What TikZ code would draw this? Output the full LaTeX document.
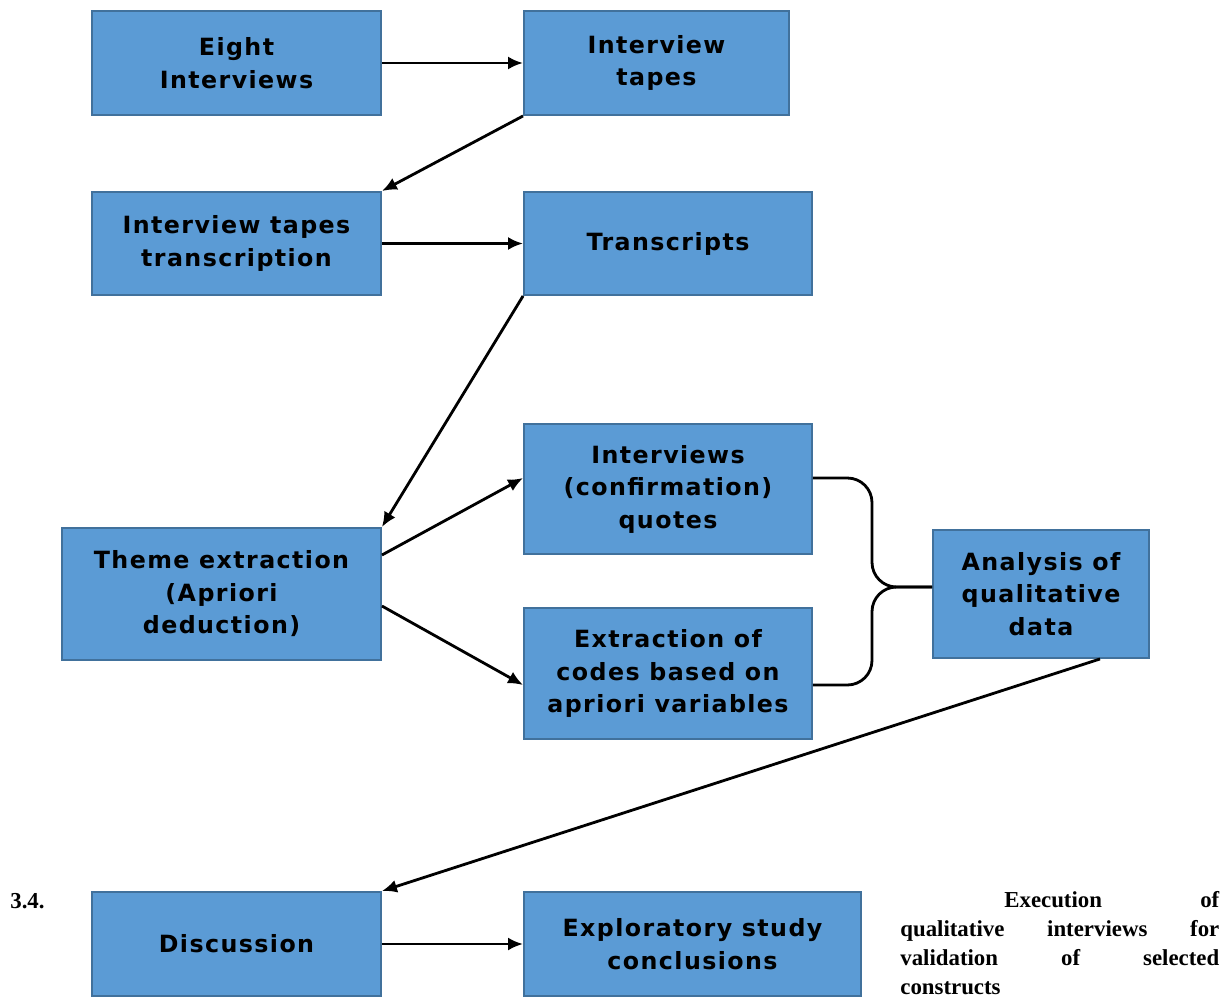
\documentclass[tikz,border=0pt]{standalone}
\usepackage{fontspec}
\usepackage{tikz}
\usetikzlibrary{shapes,arrows,arrows.meta,positioning,calc}
\usepackage{xcolor}
\newfontfamily\boxfont[LetterSpace=6.0]{DejaVu Sans}
\newfontfamily\headfont{Liberation Serif}
\definecolor{boxblue}{RGB}{91,155,213}
\definecolor{boxedge}{RGB}{65,113,156}
\tikzset{
    block/.style={rectangle, draw=boxedge, fill=boxblue, align=center, inner sep=2pt, font=\boxfont\bfseries\fontsize{13.5}{18.5}\selectfont, line width=1.1pt},
    line/.style={draw, -{Latex[length=0.3cm,width=0.26cm]}, line width=1.6pt},
    brace/.style={draw, line width=1.6pt, rounded corners=14pt},
    heading/.style={font=\headfont\bfseries\fontsize{13}{16.6}\selectfont, inner sep=0pt}
}
\begin{document}
\begin{tikzpicture}[x=0.02cm, y=-0.02cm]
    \useasboundingbox (0,0) rectangle (1229,1000);

    \node [block, minimum width=5.78cm, minimum height=2.08cm] (eight) at (236.5,63) {Eight\\Interviews};
    \node [block, minimum width=5.30cm, minimum height=2.08cm] (tapes) at (656.5,63) {Interview\\tapes};
    \node [block, minimum width=5.78cm, minimum height=2.06cm] (transcription) at (236.5,243.5) {Interview tapes\\transcription};
    \node [block, minimum width=5.76cm, minimum height=2.06cm] (transcripts) at (668,243.5) {Transcripts};
    \node [block, minimum width=6.38cm, minimum height=2.64cm] (theme) at (221.5,594) {Theme extraction\\(Apriori\\deduction)};
    \node [block, minimum width=5.76cm, minimum height=2.60cm] (quotes) at (668,489) {Interviews\\(confirmation)\\quotes};
    \node [block, minimum width=5.76cm, minimum height=2.62cm] (codes) at (668,673.5) {Extraction of\\codes based on\\apriori variables};
    \node [block, minimum width=4.32cm, minimum height=2.56cm] (analysis) at (1041,594) {Analysis of\\qualitative\\data};
    \node [block, minimum width=5.78cm, minimum height=2.08cm] (discussion) at (236.5,944) {Discussion};
    \node [block, minimum width=6.74cm, minimum height=2.08cm] (conclusions) at (692.5,944) {Exploratory study\\conclusions};

    \node [heading, anchor=base west] (secnum) at (10,908) {3.4.};
    \node [heading, anchor=north west, text width=6.38cm, align=left] (sectitle) at (900,891)
        {\hspace*{2.08cm}Execution\hfill of\\ qualitative\hfill interviews\hfill for\\ validation\hfill of\hfill selected\\ constructs};

    \coordinate (join) at (872,587);

    \path [line] (eight) -- (tapes);
    \path [line] (tapes.south west) -- (transcription.north east);
    \path [line] (transcription) -- (transcripts);
    \path [line] (transcripts.south west) -- (theme.north east);
    \path [line] ([yshift=0.78cm]theme.east) -- ([yshift=0.22cm]quotes.west);
    \path [line] ([yshift=-0.24cm]theme.east) -- ([yshift=-0.23cm]codes.west);
    \path [brace] ([yshift=0.22cm]quotes.east) -| (join) -- (join -| analysis.west);
    \path [brace] ([yshift=-0.23cm]codes.east) -| (join) -- (join -| analysis.west);
    \path [line] ($(analysis.south)+(59,0)$) -- (discussion.north east);
    \path [line] (discussion) -- (conclusions);
\end{tikzpicture}
\end{document}
